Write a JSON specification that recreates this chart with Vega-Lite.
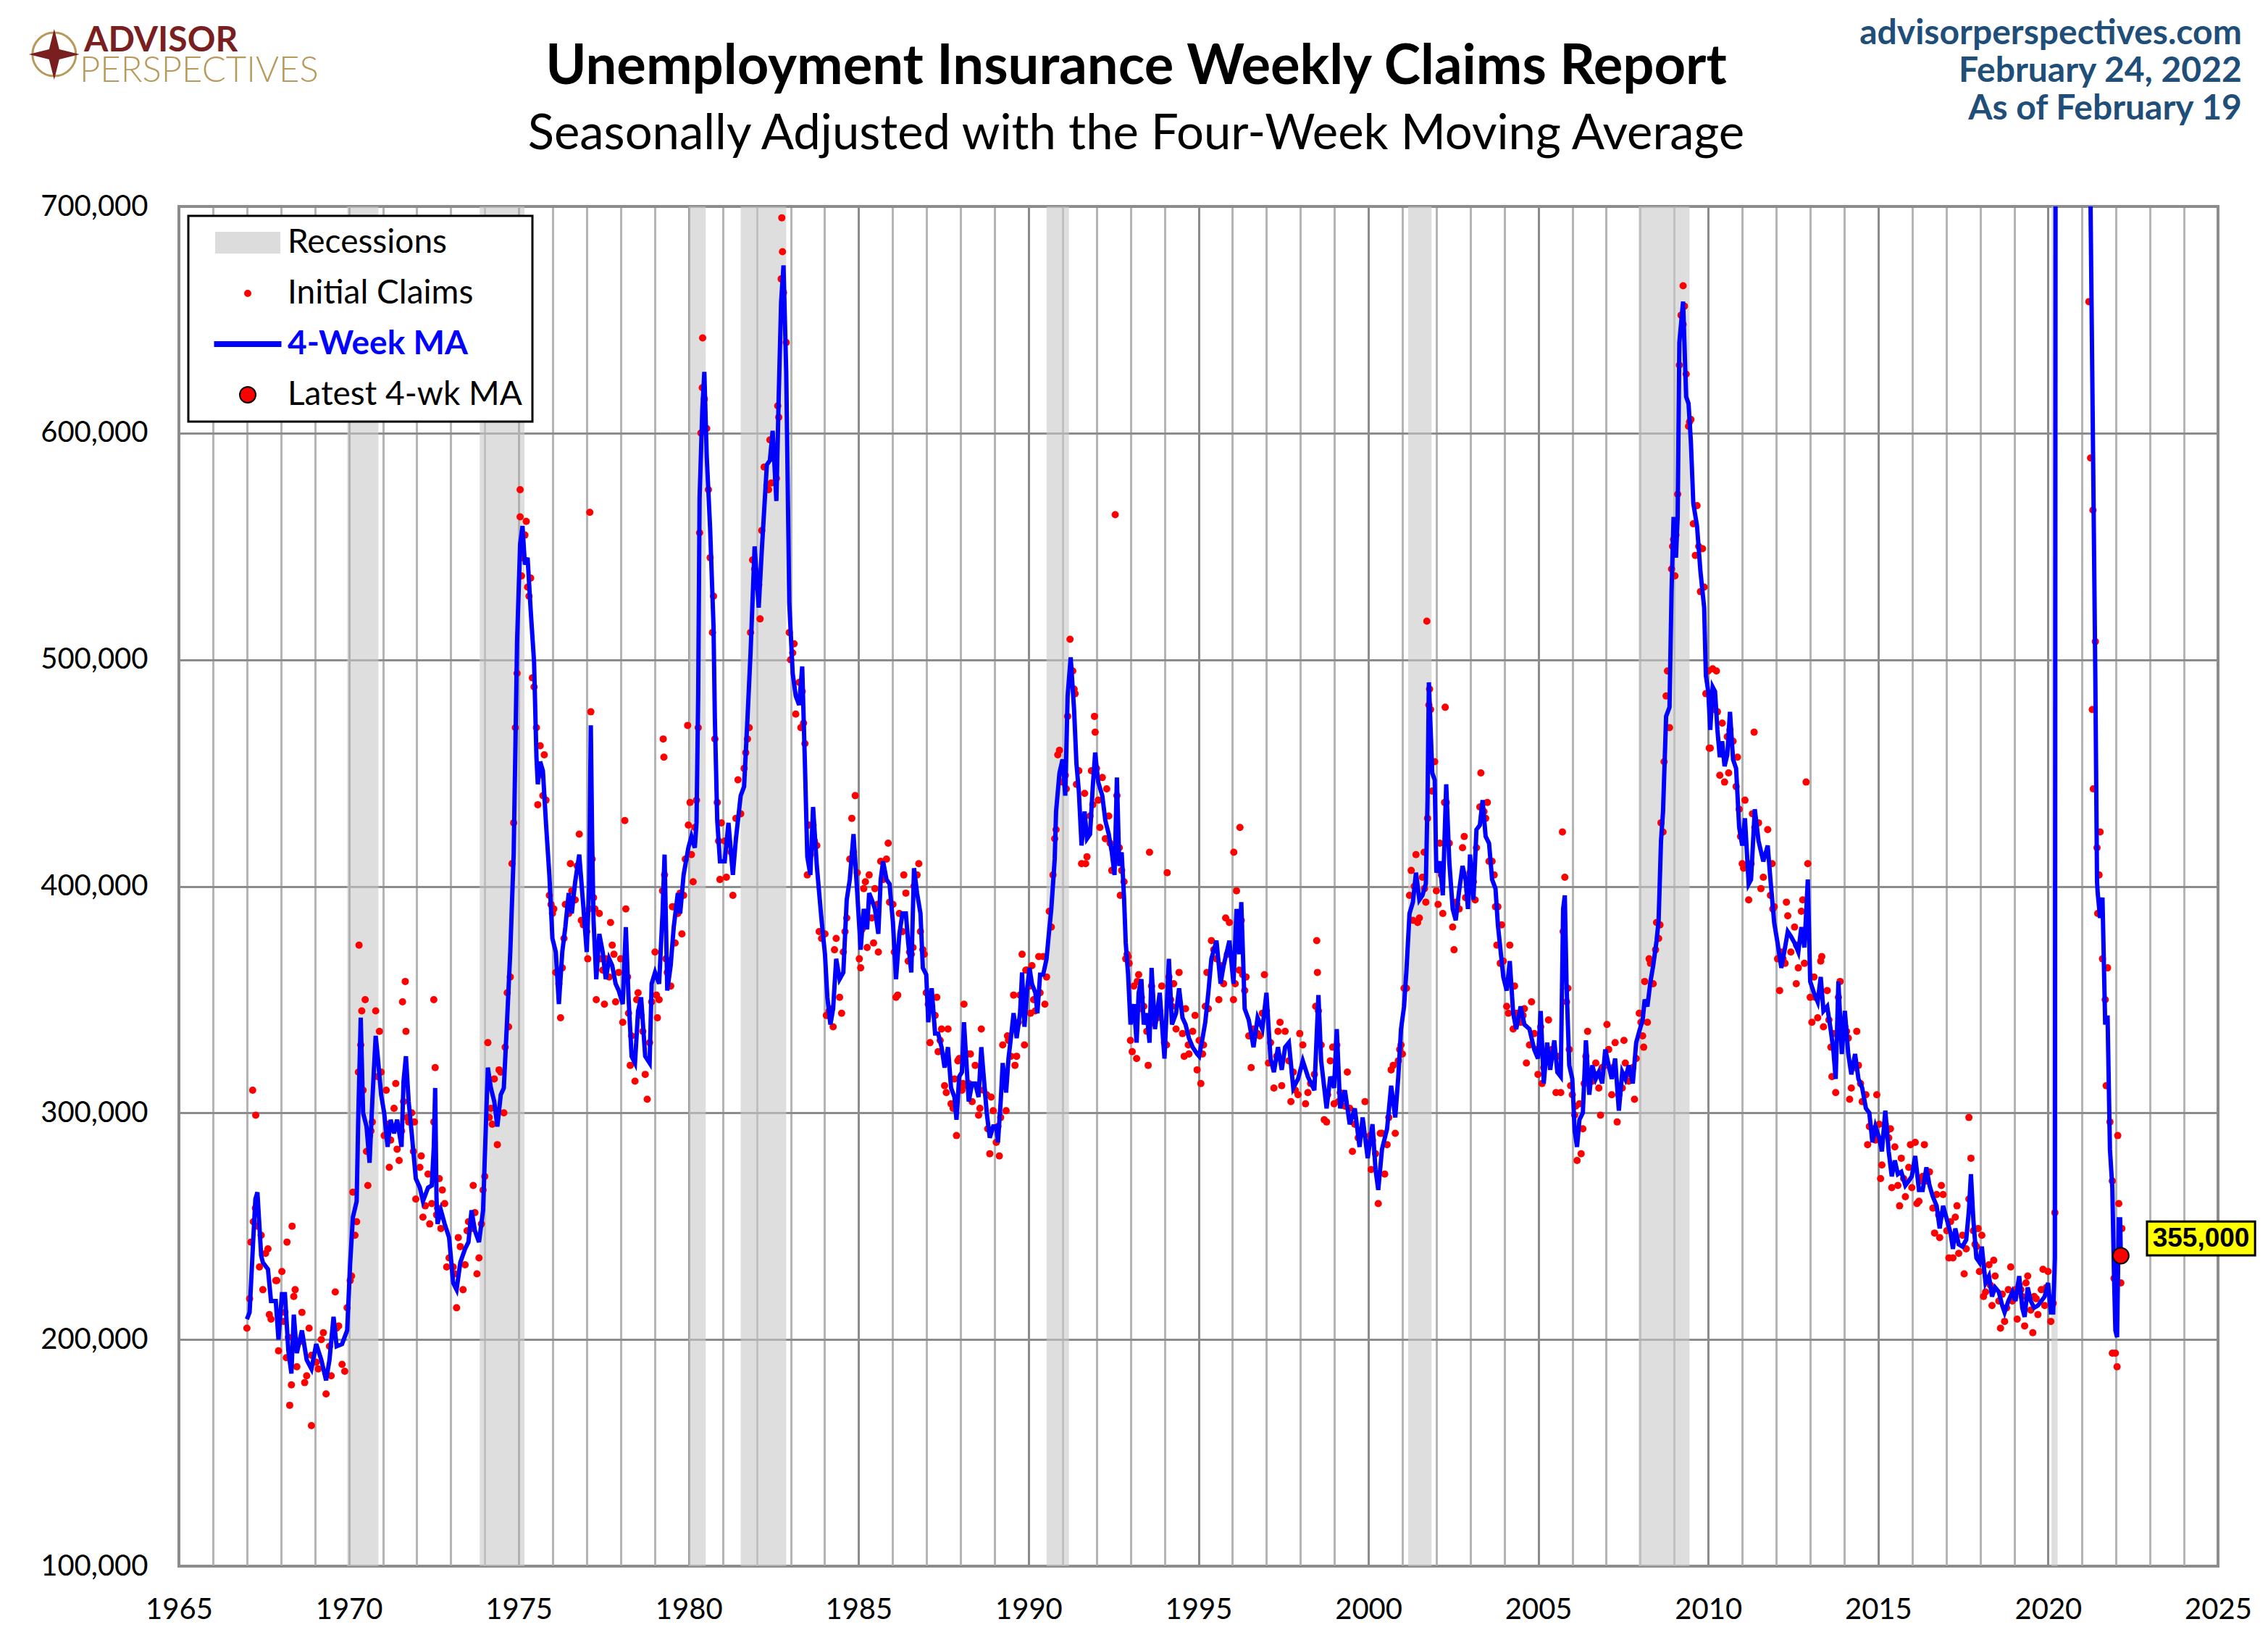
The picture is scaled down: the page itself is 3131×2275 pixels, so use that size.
{
"$schema": "https://vega.github.io/schema/vega-lite/v6.json",
"width": 2815,
"height": 1877,
"autosize": {"type": "none"},
"padding": {"left": 247, "top": 285, "right": 69, "bottom": 113},
"background": "#ffffff",
"config": {
  "font": "Lato",
  "view": {"stroke": "#8c8c8c", "strokeWidth": 4},
  "axis": {"labelFont": "Lato", "labelFontSize": 40, "labelColor": "#000000", "ticks": false, "domain": false, "grid": true},
  "legend": {"strokeWidth": 3}
},
"title": {
  "text": "Unemployment Insurance Weekly Claims Report",
  "subtitle": "Seasonally Adjusted with the Four-Week Moving Average",
  "font": "Lato", "fontSize": 76, "fontWeight": "bold", "color": "#000000",
  "subtitleFont": "Lato", "subtitleFontSize": 67, "subtitleColor": "#000000", "subtitlePadding": 21,
  "anchor": "middle", "frame": "group", "dx": -86, "offset": -197
},
"datasets": {
  "rec": [
    {"s": 1969.95, "e": 1970.87},
    {"s": 1973.85, "e": 1975.17},
    {"s": 1980.0, "e": 1980.5},
    {"s": 1981.53, "e": 1982.87},
    {"s": 1990.53, "e": 1991.19},
    {"s": 2001.17, "e": 2001.86},
    {"s": 2007.95, "e": 2009.45},
    {"s": 2020.1, "e": 2020.28}
  ],
  "wk": [
{"t":1967.00,"m":209000,"c":205000},{"t":1967.08,"m":212000,"c":218000},{"t":1967.19,"m":245000,"c":252000},{"t":1967.25,"m":262000,"c":258000},{"t":1967.31,"m":265000,"c":250000},{"t":1967.42,"m":237000,"c":246000},{"t":1967.47,"m":234000,"c":222000},{"t":1967.62,"m":231000,"c":240000},{"t":1967.71,"m":217000,"c":209000},{"t":1967.85,"m":217000,"c":226000},{"t":1967.93,"m":200000,"c":195000},
{"t":1968.03,"m":220000,"c":230000},{"t":1968.12,"m":220000,"c":212000},{"t":1968.22,"m":195000,"c":201000},{"t":1968.31,"m":185000,"c":180000},{"t":1968.38,"m":211000,"c":219000},{"t":1968.47,"m":194000,"c":188000},{"t":1968.62,"m":204000,"c":212000},{"t":1968.76,"m":191000,"c":184000},{"t":1968.90,"m":187000,"c":193000},
{"t":1969.04,"m":198000,"c":190000},{"t":1969.19,"m":191000,"c":200000},{"t":1969.33,"m":182000,"c":176000},{"t":1969.43,"m":191000,"c":197000},{"t":1969.55,"m":210000,"c":202000},{"t":1969.64,"m":197000,"c":205000},{"t":1969.80,"m":198000,"c":189000},{"t":1969.95,"m":204000,"c":214000},
{"t":1970.04,"m":234000,"c":226000},{"t":1970.12,"m":254000,"c":265000},{"t":1970.23,"m":261000,"c":252000},{"t":1970.28,"m":300000,"c":318000},{"t":1970.35,"m":342000,"c":330000},{"t":1970.42,"m":300000,"c":310000},{"t":1970.52,"m":294000,"c":283000},{"t":1970.61,"m":278000,"c":290000},{"t":1970.69,"m":305000,"c":296000},{"t":1970.79,"m":334000,"c":345000},{"t":1970.85,"m":325000,"c":316000},{"t":1970.95,"m":308000,"c":318000},
{"t":1971.04,"m":300000,"c":290000},{"t":1971.14,"m":285000,"c":295000},{"t":1971.23,"m":297000,"c":288000},{"t":1971.33,"m":291000,"c":302000},{"t":1971.42,"m":297000,"c":284000},{"t":1971.55,"m":285000,"c":292000},{"t":1971.61,"m":314000,"c":305000},{"t":1971.68,"m":325000,"c":336000},{"t":1971.76,"m":305000,"c":296000},{"t":1971.85,"m":291000,"c":300000},{"t":1971.97,"m":271000,"c":262000},
{"t":1972.09,"m":267000,"c":276000},{"t":1972.18,"m":261000,"c":254000},{"t":1972.33,"m":267000,"c":273000},{"t":1972.44,"m":268000,"c":260000},{"t":1972.50,"m":285000,"c":296000},{"t":1972.54,"m":311000,"c":320000},{"t":1972.58,"m":262000,"c":255000},{"t":1972.61,"m":251000,"c":258000},{"t":1972.71,"m":257000,"c":249000},{"t":1972.82,"m":251000,"c":260000},{"t":1972.95,"m":245000,"c":236000},
{"t":1973.07,"m":225000,"c":232000},{"t":1973.17,"m":222000,"c":214000},{"t":1973.28,"m":234000,"c":241000},{"t":1973.42,"m":240000,"c":233000},{"t":1973.52,"m":243000,"c":252000},{"t":1973.61,"m":257000,"c":249000},{"t":1973.71,"m":248000,"c":256000},{"t":1973.83,"m":243000,"c":236000},{"t":1973.95,"m":257000,"c":266000},
{"t":1974.00,"m":280000,"c":272000},{"t":1974.09,"m":320000,"c":331000},{"t":1974.18,"m":311000,"c":302000},{"t":1974.28,"m":305000,"c":315000},{"t":1974.37,"m":294000,"c":286000},{"t":1974.47,"m":308000,"c":318000},{"t":1974.56,"m":311000,"c":300000},{"t":1974.66,"m":342000,"c":353000},{"t":1974.75,"m":371000,"c":360000},{"t":1974.85,"m":414000,"c":428000},{"t":1974.95,"m":508000,"c":494000},
{"t":1975.04,"m":551000,"c":563000},{"t":1975.11,"m":559000,"c":545000},{"t":1975.18,"m":542000,"c":555000},{"t":1975.26,"m":545000,"c":532000},{"t":1975.35,"m":522000,"c":536000},{"t":1975.45,"m":499000,"c":488000},{"t":1975.52,"m":457000,"c":470000},{"t":1975.56,"m":445000,"c":436000},{"t":1975.63,"m":455000,"c":462000},{"t":1975.71,"m":451000,"c":440000},{"t":1975.80,"m":428000,"c":438000},{"t":1975.90,"m":405000,"c":396000},{"t":1975.99,"m":377000,"c":388000},
{"t":1976.09,"m":371000,"c":362000},{"t":1976.18,"m":348000,"c":357000},{"t":1976.28,"m":371000,"c":364000},{"t":1976.37,"m":382000,"c":392000},{"t":1976.47,"m":397000,"c":388000},{"t":1976.56,"m":388000,"c":398000},{"t":1976.66,"m":402000,"c":394000},{"t":1976.78,"m":414000,"c":423000},{"t":1976.90,"m":391000,"c":383000},
{"t":1977.00,"m":371000,"c":380000},{"t":1977.07,"m":400000,"c":390000},{"t":1977.12,"m":471000,"c":477000},{"t":1977.16,"m":420000,"c":412000},{"t":1977.20,"m":385000,"c":395000},{"t":1977.28,"m":359000,"c":350000},{"t":1977.37,"m":379000,"c":388000},{"t":1977.47,"m":371000,"c":363000},{"t":1977.56,"m":359000,"c":368000},{"t":1977.66,"m":368000,"c":360000},{"t":1977.75,"m":365000,"c":374000},{"t":1977.85,"m":357000,"c":349000},{"t":1977.94,"m":354000,"c":362000},
{"t":1978.06,"m":348000,"c":340000},{"t":1978.15,"m":382000,"c":390000},{"t":1978.23,"m":351000,"c":344000},{"t":1978.32,"m":325000,"c":334000},{"t":1978.42,"m":322000,"c":314000},{"t":1978.51,"m":345000,"c":353000},{"t":1978.60,"m":351000,"c":343000},{"t":1978.72,"m":325000,"c":317000},{"t":1978.85,"m":322000,"c":331000},{"t":1978.91,"m":357000,"c":349000},
{"t":1979.01,"m":362000,"c":371000},{"t":1979.13,"m":357000,"c":350000},{"t":1979.23,"m":388000,"c":398000},{"t":1979.29,"m":414000,"c":405000},{"t":1979.37,"m":354000,"c":362000},{"t":1979.47,"m":365000,"c":356000},{"t":1979.56,"m":382000,"c":391000},{"t":1979.68,"m":397000,"c":388000},{"t":1979.75,"m":388000,"c":397000},{"t":1979.85,"m":405000,"c":396000},{"t":1979.99,"m":417000,"c":427000},
{"t":1980.08,"m":422000,"c":414000},{"t":1980.18,"m":417000,"c":426000},{"t":1980.23,"m":428000,"c":438000},{"t":1980.28,"m":485000,"c":470000},{"t":1980.32,"m":571000,"c":556000},{"t":1980.40,"m":610000,"c":620000},{"t":1980.46,"m":627000,"c":615000},{"t":1980.53,"m":590000,"c":602000},{"t":1980.63,"m":558000,"c":545000},{"t":1980.73,"m":515000,"c":528000},{"t":1980.77,"m":474000,"c":465000},{"t":1980.84,"m":429000,"c":437000},{"t":1980.92,"m":411000,"c":403000},
{"t":1981.06,"m":411000,"c":420000},{"t":1981.17,"m":428000,"c":419000},{"t":1981.30,"m":405000,"c":396000},{"t":1981.39,"m":421000,"c":430000},{"t":1981.53,"m":440000,"c":432000},{"t":1981.63,"m":444000,"c":452000},{"t":1981.73,"m":474000,"c":465000},{"t":1981.82,"m":503000,"c":512000},{"t":1981.94,"m":550000,"c":540000},
{"t":1982.06,"m":523000,"c":533000},{"t":1982.15,"m":548000,"c":557000},{"t":1982.30,"m":586000,"c":577000},{"t":1982.39,"m":588000,"c":597000},{"t":1982.47,"m":601000,"c":590000},{"t":1982.58,"m":570000,"c":580000},{"t":1982.65,"m":617000,"c":607000},{"t":1982.72,"m":658000,"c":668000},{"t":1982.79,"m":674000,"c":662000},{"t":1982.87,"m":627000,"c":640000},{"t":1982.96,"m":525000,"c":512000},
{"t":1983.06,"m":494000,"c":503000},{"t":1983.15,"m":484000,"c":476000},{"t":1983.25,"m":480000,"c":490000},{"t":1983.34,"m":497000,"c":486000},{"t":1983.42,"m":454000,"c":463000},{"t":1983.49,"m":413000,"c":405000},{"t":1983.58,"m":405000,"c":414000},{"t":1983.66,"m":435000,"c":427000},{"t":1983.77,"m":409000,"c":418000},{"t":1983.91,"m":385000,"c":377000},
{"t":1984.01,"m":370000,"c":379000},{"t":1984.08,"m":351000,"c":343000},{"t":1984.17,"m":339000,"c":346000},{"t":1984.25,"m":346000,"c":338000},{"t":1984.34,"m":368000,"c":377000},{"t":1984.44,"m":359000,"c":351000},{"t":1984.55,"m":362000,"c":371000},{"t":1984.65,"m":394000,"c":386000},{"t":1984.74,"m":403000,"c":412000},{"t":1984.85,"m":423000,"c":415000},{"t":1984.96,"m":397000,"c":406000},
{"t":1985.06,"m":372000,"c":364000},{"t":1985.15,"m":390000,"c":399000},{"t":1985.25,"m":381000,"c":373000},{"t":1985.31,"m":397000,"c":405000},{"t":1985.39,"m":394000,"c":386000},{"t":1985.48,"m":390000,"c":399000},{"t":1985.58,"m":379000,"c":371000},{"t":1985.65,"m":403000,"c":411000},{"t":1985.72,"m":411000,"c":403000},{"t":1985.82,"m":403000,"c":412000},{"t":1985.91,"m":401000,"c":393000},
{"t":1986.01,"m":384000,"c":392000},{"t":1986.10,"m":359000,"c":351000},{"t":1986.20,"m":379000,"c":388000},{"t":1986.29,"m":388000,"c":380000},{"t":1986.39,"m":388000,"c":397000},{"t":1986.46,"m":375000,"c":367000},{"t":1986.55,"m":362000,"c":370000},{"t":1986.63,"m":408000,"c":400000},{"t":1986.72,"m":397000,"c":405000},{"t":1986.82,"m":388000,"c":380000},{"t":1986.89,"m":364000,"c":372000},{"t":1986.99,"m":361000,"c":353000},
{"t":1987.05,"m":340000,"c":348000},{"t":1987.15,"m":355000,"c":347000},{"t":1987.25,"m":335000,"c":343000},{"t":1987.34,"m":335000,"c":327000},{"t":1987.44,"m":329000,"c":337000},{"t":1987.53,"m":320000,"c":312000},{"t":1987.63,"m":329000,"c":337000},{"t":1987.72,"m":311000,"c":304000},{"t":1987.82,"m":307000,"c":315000},{"t":1987.88,"m":297000,"c":290000},{"t":1987.96,"m":316000,"c":324000},
{"t":1988.04,"m":318000,"c":310000},{"t":1988.10,"m":340000,"c":348000},{"t":1988.18,"m":320000,"c":312000},{"t":1988.24,"m":305000,"c":313000},{"t":1988.34,"m":313000,"c":305000},{"t":1988.43,"m":313000,"c":321000},{"t":1988.53,"m":307000,"c":299000},{"t":1988.61,"m":329000,"c":337000},{"t":1988.67,"m":318000,"c":310000},{"t":1988.77,"m":300000,"c":308000},{"t":1988.86,"m":289000,"c":282000},{"t":1988.96,"m":294000,"c":301000},
{"t":1989.05,"m":294000,"c":287000},{"t":1989.10,"m":287000,"c":294000},{"t":1989.18,"m":305000,"c":298000},{"t":1989.24,"m":322000,"c":330000},{"t":1989.34,"m":309000,"c":301000},{"t":1989.41,"m":324000,"c":332000},{"t":1989.48,"m":333000,"c":325000},{"t":1989.56,"m":344000,"c":352000},{"t":1989.65,"m":333000,"c":325000},{"t":1989.75,"m":344000,"c":352000},{"t":1989.81,"m":362000,"c":370000},{"t":1989.88,"m":338000,"c":330000},{"t":1989.96,"m":355000,"c":363000},
{"t":1990.03,"m":364000,"c":356000},{"t":1990.10,"m":357000,"c":365000},{"t":1990.20,"m":353000,"c":345000},{"t":1990.26,"m":344000,"c":352000},{"t":1990.34,"m":361000,"c":353000},{"t":1990.43,"m":361000,"c":369000},{"t":1990.53,"m":368000,"c":360000},{"t":1990.61,"m":381000,"c":389000},{"t":1990.67,"m":390000,"c":382000},{"t":1990.77,"m":412000,"c":421000},{"t":1990.81,"m":433000,"c":425000},{"t":1990.91,"m":450000,"c":460000},
{"t":1991.00,"m":456000,"c":446000},{"t":1991.08,"m":440000,"c":449000},{"t":1991.15,"m":484000,"c":475000},{"t":1991.24,"m":501000,"c":490000},{"t":1991.34,"m":478000,"c":487000},{"t":1991.41,"m":454000,"c":445000},{"t":1991.48,"m":442000,"c":451000},{"t":1991.56,"m":418000,"c":410000},{"t":1991.65,"m":433000,"c":441000},{"t":1991.72,"m":421000,"c":413000},{"t":1991.81,"m":423000,"c":431000},{"t":1991.89,"m":444000,"c":436000},{"t":1991.96,"m":459000,"c":468000},
{"t":1992.05,"m":446000,"c":438000},{"t":1992.17,"m":440000,"c":448000},{"t":1992.26,"m":429000,"c":421000},{"t":1992.36,"m":423000,"c":431000},{"t":1992.45,"m":415000,"c":407000},{"t":1992.53,"m":405000,"c":413000},{"t":1992.60,"m":448000,"c":440000},{"t":1992.67,"m":409000,"c":417000},{"t":1992.74,"m":415000,"c":407000},{"t":1992.81,"m":395000,"c":402000},{"t":1992.86,"m":375000,"c":368000},{"t":1992.93,"m":361000,"c":369000},
{"t":1993.00,"m":339000,"c":332000},{"t":1993.10,"m":348000,"c":356000},{"t":1993.18,"m":331000,"c":324000},{"t":1993.24,"m":353000,"c":361000},{"t":1993.32,"m":359000,"c":351000},{"t":1993.39,"m":339000,"c":347000},{"t":1993.48,"m":344000,"c":336000},{"t":1993.56,"m":331000,"c":339000},{"t":1993.62,"m":364000,"c":356000},{"t":1993.72,"m":337000,"c":345000},{"t":1993.86,"m":353000,"c":345000},
{"t":1994.00,"m":324000,"c":331000},{"t":1994.13,"m":368000,"c":360000},{"t":1994.22,"m":339000,"c":347000},{"t":1994.34,"m":344000,"c":337000},{"t":1994.43,"m":355000,"c":362000},{"t":1994.53,"m":342000,"c":335000},{"t":1994.62,"m":339000,"c":346000},{"t":1994.72,"m":333000,"c":326000},{"t":1994.83,"m":329000,"c":336000},{"t":1994.96,"m":326000,"c":319000},
{"t":1995.02,"m":325000,"c":332000},{"t":1995.12,"m":333000,"c":326000},{"t":1995.20,"m":340000,"c":347000},{"t":1995.29,"m":353000,"c":346000},{"t":1995.38,"m":368000,"c":376000},{"t":1995.53,"m":376000,"c":368000},{"t":1995.65,"m":357000,"c":365000},{"t":1995.74,"m":365000,"c":357000},{"t":1995.91,"m":376000,"c":384000},
{"t":1996.03,"m":357000,"c":350000},{"t":1996.12,"m":390000,"c":398000},{"t":1996.20,"m":370000,"c":363000},{"t":1996.26,"m":393000,"c":385000},{"t":1996.36,"m":346000,"c":354000},{"t":1996.48,"m":341000,"c":334000},{"t":1996.62,"m":329000,"c":337000},{"t":1996.74,"m":342000,"c":335000},{"t":1996.88,"m":337000,"c":344000},
{"t":1997.00,"m":353000,"c":345000},{"t":1997.12,"m":324000,"c":331000},{"t":1997.22,"m":318000,"c":311000},{"t":1997.34,"m":329000,"c":336000},{"t":1997.45,"m":319000,"c":312000},{"t":1997.55,"m":329000,"c":336000},{"t":1997.66,"m":331000,"c":323000},{"t":1997.79,"m":311000,"c":318000},{"t":1997.93,"m":315000,"c":308000},
{"t":1998.07,"m":323000,"c":330000},{"t":1998.22,"m":316000,"c":309000},{"t":1998.41,"m":310000,"c":317000},{"t":1998.53,"m":352000,"c":345000},{"t":1998.61,"m":323000,"c":330000},{"t":1998.77,"m":302000,"c":296000},{"t":1998.88,"m":316000,"c":323000},{"t":1998.99,"m":311000,"c":304000},
{"t":1999.07,"m":337000,"c":330000},{"t":1999.17,"m":302000,"c":309000},{"t":1999.31,"m":310000,"c":303000},{"t":1999.45,"m":295000,"c":302000},{"t":1999.60,"m":302000,"c":295000},{"t":1999.74,"m":285000,"c":291000},{"t":1999.83,"m":298000,"c":291000},{"t":1999.98,"m":280000,"c":287000},
{"t":2000.12,"m":295000,"c":288000},{"t":2000.21,"m":275000,"c":282000},{"t":2000.29,"m":266000,"c":260000},{"t":2000.40,"m":284000,"c":291000},{"t":2000.55,"m":293000,"c":286000},{"t":2000.67,"m":312000,"c":319000},{"t":2000.79,"m":298000,"c":291000},{"t":2000.88,"m":316000,"c":323000},{"t":2000.96,"m":337000,"c":330000},
{"t":2001.05,"m":347000,"c":355000},{"t":2001.12,"m":363000,"c":355000},{"t":2001.21,"m":388000,"c":396000},{"t":2001.31,"m":393000,"c":385000},{"t":2001.40,"m":406000,"c":414000},{"t":2001.50,"m":394000,"c":386000},{"t":2001.59,"m":396000,"c":404000},{"t":2001.69,"m":401000,"c":393000},{"t":2001.74,"m":438000,"c":430000},{"t":2001.78,"m":490000,"c":480000},{"t":2001.83,"m":470000,"c":478000},{"t":2001.88,"m":450000,"c":442000},{"t":2001.95,"m":447000,"c":455000},
{"t":2002.00,"m":406000,"c":398000},{"t":2002.10,"m":411000,"c":419000},{"t":2002.19,"m":396000,"c":388000},{"t":2002.29,"m":445000,"c":437000},{"t":2002.38,"m":411000,"c":419000},{"t":2002.48,"m":390000,"c":382000},{"t":2002.57,"m":385000,"c":393000},{"t":2002.67,"m":398000,"c":390000},{"t":2002.77,"m":409000,"c":417000},{"t":2002.86,"m":403000,"c":395000},{"t":2002.93,"m":390000,"c":398000},{"t":2002.99,"m":414000,"c":406000},
{"t":2003.09,"m":394000,"c":402000},{"t":2003.18,"m":425000,"c":417000},{"t":2003.28,"m":427000,"c":435000},{"t":2003.36,"m":438000,"c":430000},{"t":2003.45,"m":422000,"c":430000},{"t":2003.55,"m":419000,"c":411000},{"t":2003.64,"m":403000,"c":411000},{"t":2003.74,"m":399000,"c":391000},{"t":2003.81,"m":383000,"c":391000},{"t":2003.88,"m":373000,"c":366000},{"t":2003.97,"m":360000,"c":367000},
{"t":2004.07,"m":354000,"c":347000},{"t":2004.16,"m":367000,"c":374000},{"t":2004.26,"m":344000,"c":337000},{"t":2004.35,"m":337000,"c":344000},{"t":2004.48,"m":347000,"c":340000},{"t":2004.59,"m":339000,"c":346000},{"t":2004.74,"m":337000,"c":330000},{"t":2004.88,"m":328000,"c":335000},{"t":2004.99,"m":324000,"c":317000},
{"t":2005.07,"m":345000,"c":338000},{"t":2005.16,"m":313000,"c":320000},{"t":2005.26,"m":331000,"c":324000},{"t":2005.35,"m":319000,"c":326000},{"t":2005.47,"m":332000,"c":325000},{"t":2005.56,"m":318000,"c":325000},{"t":2005.66,"m":316000,"c":309000},{"t":2005.73,"m":390000,"c":380000},{"t":2005.78,"m":396000,"c":404000},{"t":2005.83,"m":357000,"c":349000},{"t":2005.91,"m":321000,"c":328000},
{"t":2006.00,"m":315000,"c":308000},{"t":2006.07,"m":292000,"c":299000},{"t":2006.14,"m":285000,"c":279000},{"t":2006.21,"m":297000,"c":304000},{"t":2006.31,"m":300000,"c":293000},{"t":2006.40,"m":332000,"c":325000},{"t":2006.50,"m":308000,"c":315000},{"t":2006.59,"m":321000,"c":314000},{"t":2006.69,"m":315000,"c":322000},{"t":2006.78,"m":318000,"c":311000},{"t":2006.88,"m":313000,"c":320000},{"t":2006.97,"m":328000,"c":321000},
{"t":2007.07,"m":321000,"c":328000},{"t":2007.16,"m":315000,"c":308000},{"t":2007.26,"m":324000,"c":331000},{"t":2007.37,"m":301000,"c":308000},{"t":2007.47,"m":318000,"c":311000},{"t":2007.56,"m":315000,"c":322000},{"t":2007.66,"m":321000,"c":314000},{"t":2007.78,"m":313000,"c":320000},{"t":2007.88,"m":331000,"c":324000},{"t":2007.97,"m":336000,"c":344000},
{"t":2008.07,"m":341000,"c":334000},{"t":2008.13,"m":350000,"c":358000},{"t":2008.21,"m":347000,"c":340000},{"t":2008.30,"m":358000,"c":366000},{"t":2008.38,"m":365000,"c":357000},{"t":2008.48,"m":376000,"c":384000},{"t":2008.54,"m":385000,"c":377000},{"t":2008.61,"m":420000,"c":428000},{"t":2008.67,"m":433000,"c":424000},{"t":2008.76,"m":475000,"c":484000},{"t":2008.86,"m":479000,"c":470000},{"t":2008.92,"m":530000,"c":540000},{"t":2008.98,"m":563000,"c":553000},
{"t":2009.05,"m":545000,"c":555000},{"t":2009.10,"m":563000,"c":573000},{"t":2009.15,"m":640000,"c":630000},{"t":2009.26,"m":658000,"c":648000},{"t":2009.35,"m":616000,"c":626000},{"t":2009.42,"m":613000,"c":603000},{"t":2009.49,"m":596000,"c":606000},{"t":2009.56,"m":569000,"c":560000},{"t":2009.67,"m":559000,"c":568000},{"t":2009.77,"m":539000,"c":530000},{"t":2009.88,"m":523000,"c":532000},{"t":2009.93,"m":493000,"c":485000},
{"t":2010.00,"m":486000,"c":495000},{"t":2010.06,"m":469000,"c":461000},{"t":2010.13,"m":488000,"c":496000},{"t":2010.20,"m":486000,"c":478000},{"t":2010.27,"m":469000,"c":477000},{"t":2010.34,"m":457000,"c":449000},{"t":2010.41,"m":464000,"c":472000},{"t":2010.48,"m":453000,"c":446000},{"t":2010.56,"m":458000,"c":466000},{"t":2010.64,"m":477000,"c":469000},{"t":2010.73,"m":456000,"c":464000},{"t":2010.82,"m":452000,"c":444000},{"t":2010.91,"m":426000,"c":434000},
{"t":2011.00,"m":418000,"c":410000},{"t":2011.08,"m":430000,"c":438000},{"t":2011.19,"m":401000,"c":394000},{"t":2011.26,"m":403000,"c":410000},{"t":2011.37,"m":434000,"c":426000},{"t":2011.48,"m":420000,"c":428000},{"t":2011.62,"m":411000,"c":404000},{"t":2011.75,"m":418000,"c":425000},{"t":2011.83,"m":403000,"c":396000},{"t":2011.94,"m":384000,"c":391000},
{"t":2012.04,"m":375000,"c":368000},{"t":2012.15,"m":364000,"c":371000},{"t":2012.26,"m":373000,"c":366000},{"t":2012.34,"m":380000,"c":387000},{"t":2012.43,"m":378000,"c":371000},{"t":2012.54,"m":375000,"c":382000},{"t":2012.65,"m":371000,"c":364000},{"t":2012.74,"m":382000,"c":389000},{"t":2012.83,"m":373000,"c":366000},{"t":2012.93,"m":403000,"c":410000},
{"t":2013.00,"m":358000,"c":351000},{"t":2013.11,"m":353000,"c":360000},{"t":2013.22,"m":349000,"c":342000},{"t":2013.31,"m":360000,"c":367000},{"t":2013.39,"m":345000,"c":338000},{"t":2013.50,"m":347000,"c":354000},{"t":2013.61,"m":336000,"c":329000},{"t":2013.68,"m":328000,"c":335000},{"t":2013.75,"m":315000,"c":309000},{"t":2013.83,"m":358000,"c":351000},{"t":2013.93,"m":326000,"c":333000},
{"t":2014.02,"m":345000,"c":338000},{"t":2014.12,"m":326000,"c":333000},{"t":2014.21,"m":317000,"c":311000},{"t":2014.32,"m":326000,"c":320000},{"t":2014.42,"m":315000,"c":321000},{"t":2014.53,"m":311000,"c":305000},{"t":2014.64,"m":302000,"c":308000},{"t":2014.74,"m":300000,"c":294000},{"t":2014.83,"m":287000,"c":293000},{"t":2014.92,"m":294000,"c":288000},
{"t":2015.03,"m":289000,"c":295000},{"t":2015.11,"m":283000,"c":277000},{"t":2015.21,"m":301000,"c":295000},{"t":2015.31,"m":283000,"c":289000},{"t":2015.40,"m":272000,"c":267000},{"t":2015.49,"m":279000,"c":285000},{"t":2015.58,"m":273000,"c":268000},{"t":2015.68,"m":274000,"c":280000},{"t":2015.80,"m":268000,"c":263000},{"t":2015.90,"m":270000,"c":276000},{"t":2015.99,"m":272000,"c":267000},
{"t":2016.09,"m":281000,"c":287000},{"t":2016.20,"m":266000,"c":261000},{"t":2016.31,"m":266000,"c":272000},{"t":2016.42,"m":276000,"c":270000},{"t":2016.51,"m":268000,"c":274000},{"t":2016.61,"m":263000,"c":258000},{"t":2016.72,"m":259000,"c":264000},{"t":2016.81,"m":249000,"c":245000},{"t":2016.91,"m":259000,"c":264000},
{"t":2017.02,"m":253000,"c":248000},{"t":2017.13,"m":247000,"c":252000},{"t":2017.20,"m":240000,"c":236000},{"t":2017.27,"m":249000,"c":254000},{"t":2017.37,"m":242000,"c":238000},{"t":2017.48,"m":241000,"c":246000},{"t":2017.59,"m":244000,"c":240000},{"t":2017.67,"m":257000,"c":262000},{"t":2017.73,"m":273000,"c":280000},{"t":2017.80,"m":253000,"c":248000},{"t":2017.89,"m":236000,"c":241000},{"t":2017.98,"m":234000,"c":230000},
{"t":2018.05,"m":241000,"c":246000},{"t":2018.16,"m":225000,"c":221000},{"t":2018.26,"m":228000,"c":233000},{"t":2018.35,"m":219000,"c":215000},{"t":2018.44,"m":223000,"c":228000},{"t":2018.55,"m":221000,"c":217000},{"t":2018.65,"m":215000,"c":220000},{"t":2018.72,"m":212000,"c":208000},{"t":2018.83,"m":217000,"c":222000},{"t":2018.95,"m":221000,"c":217000},
{"t":2019.04,"m":217000,"c":222000},{"t":2019.15,"m":228000,"c":224000},{"t":2019.24,"m":214000,"c":219000},{"t":2019.31,"m":210000,"c":206000},{"t":2019.40,"m":223000,"c":228000},{"t":2019.49,"m":217000,"c":213000},{"t":2019.59,"m":214000,"c":219000},{"t":2019.70,"m":215000,"c":211000},{"t":2019.80,"m":217000,"c":222000},{"t":2019.90,"m":219000,"c":215000},
{"t":2020.00,"m":225000,"c":230000},{"t":2020.08,"m":212000,"c":208000},{"t":2020.15,"m":212000,"c":216000},{"t":2020.20,"m":236000,"c":256000},{"t":2020.23,"m":1000000},{"t":2020.25,"m":2000000},{"t":2020.28,"m":4260000},{"t":2020.35,"m":3500000},{"t":2020.45,"m":2200000},{"t":2020.55,"m":1450000},{"t":2020.70,"m":1000000},{"t":2020.85,"m":760000},
{"t":2021.00,"m":820000},{"t":2021.10,"m":780000},{"t":2021.20,"m":730000,"c":658000},{"t":2021.25,"m":700000,"c":589000},{"t":2021.32,"m":596000,"c":566000},{"t":2021.39,"m":492000,"c":508000},{"t":2021.44,"m":402000,"c":417000},{"t":2021.46,"m":397000,"c":388000},{"t":2021.53,"m":386000,"c":424000},{"t":2021.60,"m":395000,"c":368000},{"t":2021.68,"m":339000,"c":350000},{"t":2021.75,"m":343000,"c":364000},{"t":2021.82,"m":284000,"c":296000},{"t":2021.89,"m":267000,"c":270000},{"t":2021.94,"m":228000,"c":227000},{"t":2021.98,"m":204000,"c":194000},
{"t":2022.03,"m":201000,"c":188000},{"t":2022.08,"m":253000,"c":260000},{"t":2022.12,"m":253000,"c":249000},{"t":2022.14,"m":237000,"c":225000},
{"t":1967.17,"c":310000},{"t":1967.26,"c":299000},{"t":1968.26,"c":171000},{"t":1968.33,"c":250000},{"t":1968.18,"c":243000},{"t":1968.90,"c":162000},{"t":1970.30,"c":374000},{"t":1970.48,"c":350000},{"t":1971.58,"c":349000},{"t":1971.66,"c":358000},{"t":1972.50,"c":350000},{"t":1975.04,"c":575000},{"t":1977.09,"c":565000},{"t":1978.12,"c":429000},{"t":1979.25,"c":465000},{"t":1979.27,"c":457000},{"t":1979.97,"c":471000},{"t":1980.41,"c":642000},{"t":1982.74,"c":695000},{"t":1982.76,"c":680000},{"t":1984.90,"c":440000},{"t":1991.22,"c":509000},{"t":1991.94,"c":475000},{"t":1992.55,"c":564000},{"t":1993.56,"c":415000},{"t":1994.08,"c":406000},{"t":1996.04,"c":415000},{"t":1996.22,"c":426000},{"t":1998.48,"c":376000},{"t":1998.50,"c":362000},{"t":2001.72,"c":517000},{"t":2002.26,"c":479000},{"t":2003.31,"c":450000},{"t":2005.71,"c":424000},{"t":2009.26,"c":665000},{"t":2011.35,"c":468000},{"t":2012.88,"c":446000},{"t":2017.67,"c":298000},{"t":2021.30,"c":478000},{"t":2021.33,"c":443000},{"t":2021.50,"c":405000},{"t":2021.71,"c":312000},{"t":2022.05,"c":290000},{"t":2021.89,"c":194000},{"t":2022.17,"c":249000},
{"t":1967.55,"c":238000},{"t":1968.08,"c":208000},{"t":1968.55,"c":199000},{"t":1969.10,"c":187000},{"t":1969.70,"c":206000},{"t":1970.18,"c":246000},{"t":1970.65,"c":292000},{"t":1971.10,"c":310000},{"t":1971.48,"c":279000},{"t":1971.90,"c":283000},{"t":1972.25,"c":259000},{"t":1972.75,"c":266000},{"t":1973.12,"c":229000},{"t":1973.48,"c":248000},{"t":1973.90,"c":251000},{"t":1974.22,"c":295000},{"t":1974.60,"c":329000},{"t":1974.90,"c":470000},{"t":1975.30,"c":528000},{"t":1975.60,"c":449000},{"t":1975.95,"c":392000},{"t":1976.33,"c":377000},{"t":1976.72,"c":409000},{"t":1977.40,"c":368000},{"t":1977.80,"c":370000},{"t":1978.20,"c":360000},{"t":1978.65,"c":336000},{"t":1979.05,"c":352000},{"t":1979.60,"c":375000},{"t":1979.90,"c":412000},{"t":1980.36,"c":600000},{"t":1980.58,"c":575000},{"t":1980.88,"c":420000},{"t":1981.25,"c":415000},{"t":1981.68,"c":459000},{"t":1982.00,"c":532000},{"t":1982.35,"c":575000},{"t":1982.54,"c":588000},{"t":1983.00,"c":500000},{"t":1983.38,"c":472000},{"t":1983.70,"c":420000},{"t":1984.13,"c":345000},{"t":1984.60,"c":380000},{"t":1985.10,"c":381000},{"t":1985.55,"c":392000},{"t":1986.05,"c":371000},{"t":1986.50,"c":371000},{"t":1986.93,"c":370000},{"t":1987.40,"c":332000},{"t":1987.78,"c":302000},{"t":1988.20,"c":326000},{"t":1988.80,"c":293000},{"t":1989.30,"c":316000},{"t":1989.70,"c":340000},{"t":1990.15,"c":350000},{"t":1990.72,"c":405000},{"t":1991.05,"c":452000},{"t":1991.30,"c":495000},{"t":1991.60,"c":424000},{"t":1992.00,"c":452000},{"t":1992.40,"c":419000},{"t":1992.90,"c":370000},{"t":1993.30,"c":346000},{"t":1993.80,"c":342000},{"t":1994.18,"c":350000},{"t":1994.70,"c":330000},{"t":1995.15,"c":330000},{"t":1995.45,"c":372000},{"t":1995.85,"c":370000},{"t":1996.30,"c":361000},{"t":1996.80,"c":334000},{"t":1997.30,"c":325000},{"t":1997.85,"c":310000},{"t":1998.30,"c":313000},{"t":1998.80,"c":308000},{"t":1999.20,"c":307000},{"t":1999.70,"c":289000},{"t":2000.05,"c":290000},{"t":2000.60,"c":298000},{"t":2000.92,"c":328000},{"t":2001.35,"c":400000},{"t":2001.65,"c":399000},{"t":2001.80,"c":487000},{"t":2002.15,"c":405000},{"t":2002.60,"c":392000},{"t":2003.05,"c":400000},{"t":2003.40,"c":433000},{"t":2003.70,"c":405000},{"t":2004.10,"c":358000},{"t":2004.55,"c":343000},{"t":2004.95,"c":328000},{"t":2005.40,"c":328000},{"t":2005.95,"c":312000},{"t":2006.35,"c":313000},{"t":2006.75,"c":317000},{"t":2007.20,"c":320000},{"t":2007.60,"c":317000},{"t":2008.02,"c":340000},{"t":2008.45,"c":372000},{"t":2008.70,"c":455000},{"t":2008.95,"c":550000},{"t":2009.20,"c":652000},{"t":2009.45,"c":605000},{"t":2009.72,"c":550000},{"t":2010.10,"c":478000},{"t":2010.45,"c":458000},{"t":2010.95,"c":422000},{"t":2011.40,"c":428000},{"t":2011.90,"c":390000},{"t":2012.20,"c":368000},{"t":2012.60,"c":374000},{"t":2013.15,"c":351000},{"t":2013.55,"c":341000},{"t":2014.07,"c":336000},{"t":2014.48,"c":313000},{"t":2014.88,"c":290000},{"t":2015.25,"c":292000},{"t":2015.75,"c":271000},{"t":2016.25,"c":270000},{"t":2016.78,"c":255000},{"t":2017.24,"c":244000},{"t":2017.85,"c":242000},{"t":2018.30,"c":224000},{"t":2018.78,"c":214000},{"t":2019.20,"c":222000},{"t":2019.65,"c":218000},{"t":2019.95,"c":223000},
{"t":1967.12,"c":243000},{"t":1967.37,"c":232000},{"t":1967.66,"c":211000},{"t":1967.88,"c":226000},{"t":1968.16,"c":192000},{"t":1968.42,"c":222000},{"t":1968.70,"c":181000},{"t":1968.83,"c":205000},{"t":1969.25,"c":203000},{"t":1969.48,"c":184000},{"t":1969.60,"c":221000},{"t":1969.88,"c":186000},
{"t":1970.08,"c":228000},{"t":1970.38,"c":345000},{"t":1970.56,"c":268000},{"t":1970.90,"c":336000},{"t":1971.19,"c":276000},{"t":1971.38,"c":313000},{"t":1971.72,"c":298000},{"t":1971.93,"c":296000},{"t":1972.13,"c":281000},{"t":1972.38,"c":251000},{"t":1972.66,"c":271000},{"t":1972.88,"c":232000},
{"t":1973.22,"c":245000},{"t":1973.36,"c":222000},{"t":1973.66,"c":268000},{"t":1973.77,"c":229000},{"t":1974.13,"c":298000},{"t":1974.42,"c":319000},{"t":1974.70,"c":338000},{"t":1974.80,"c":410000},{"t":1975.08,"c":537000},{"t":1975.22,"c":561000},{"t":1975.40,"c":492000},{"t":1975.75,"c":458000},
{"t":1976.03,"c":390000},{"t":1976.23,"c":342000},{"t":1976.52,"c":410000},{"t":1976.84,"c":385000},{"t":1977.03,"c":368000},{"t":1977.24,"c":390000},{"t":1977.52,"c":348000},{"t":1977.70,"c":384000},{"t":1978.00,"c":368000},{"t":1978.28,"c":321000},{"t":1978.47,"c":350000},{"t":1978.78,"c":306000},
{"t":1979.08,"c":342000},{"t":1979.33,"c":368000},{"t":1979.52,"c":391000},{"t":1979.80,"c":379000},{"t":1980.04,"c":437000},{"t":1980.13,"c":402000},{"t":1980.70,"c":512000},{"t":1980.96,"c":428000},{"t":1981.11,"c":404000},{"t":1981.45,"c":447000},{"t":1981.78,"c":470000},{"t":1981.88,"c":544000},
{"t":1982.10,"c":518000},{"t":1982.22,"c":585000},{"t":1982.43,"c":578000},{"t":1982.62,"c":612000},{"t":1983.10,"c":507000},{"t":1983.30,"c":470000},{"t":1983.53,"c":427000},{"t":1983.84,"c":380000},{"t":1984.05,"c":343000},{"t":1984.29,"c":372000},{"t":1984.50,"c":344000},{"t":1984.80,"c":430000},
{"t":1985.02,"c":368000},{"t":1985.20,"c":402000},{"t":1985.44,"c":375000},{"t":1985.87,"c":419000},{"t":1986.15,"c":352000},{"t":1986.33,"c":405000},{"t":1986.60,"c":373000},{"t":1986.77,"c":410000},{"t":1987.10,"c":331000},{"t":1987.30,"c":351000},{"t":1987.58,"c":309000},{"t":1987.92,"c":323000},
{"t":1988.07,"c":313000},{"t":1988.29,"c":326000},{"t":1988.57,"c":302000},{"t":1988.90,"c":307000},{"t":1989.14,"c":281000},{"t":1989.38,"c":334000},{"t":1989.60,"c":321000},{"t":1989.92,"c":363000},{"t":1990.06,"c":344000},{"t":1990.30,"c":369000},{"t":1990.48,"c":348000},{"t":1990.86,"c":458000},
{"t":1991.11,"c":443000},{"t":1991.37,"c":485000},{"t":1991.68,"c":410000},{"t":1991.85,"c":451000},{"t":1992.10,"c":426000},{"t":1992.30,"c":443000},{"t":1992.70,"c":396000},{"t":1992.96,"c":366000},{"t":1993.05,"c":327000},{"t":1993.20,"c":358000},{"t":1993.52,"c":321000},{"t":1993.92,"c":356000},
{"t":1994.06,"c":330000},{"t":1994.27,"c":357000},{"t":1994.58,"c":325000},{"t":1994.90,"c":343000},{"t":1995.07,"c":313000},{"t":1995.25,"c":362000},{"t":1995.60,"c":350000},{"t":1995.80,"c":386000},{"t":1996.08,"c":357000},{"t":1996.40,"c":360000},{"t":1996.55,"c":320000},{"t":1996.94,"c":361000},
{"t":1997.06,"c":322000},{"t":1997.40,"c":340000},{"t":1997.72,"c":305000},{"t":1997.98,"c":335000},{"t":1998.15,"c":304000},{"t":1998.45,"c":347000},{"t":1998.70,"c":297000},{"t":1998.95,"c":329000},{"t":1999.12,"c":305000},{"t":1999.38,"c":318000},{"t":1999.53,"c":283000},{"t":1999.90,"c":305000},
{"t":2000.08,"c":275000},{"t":2000.35,"c":291000},{"t":2000.48,"c":273000},{"t":2000.73,"c":321000},{"t":2001.00,"c":326000},{"t":2001.26,"c":407000},{"t":2001.45,"c":384000},{"t":2001.64,"c":415000},{"t":2002.05,"c":392000},{"t":2002.24,"c":437000},{"t":2002.52,"c":372000},{"t":2002.82,"c":422000},
{"t":2003.14,"c":394000},{"t":2003.50,"c":437000},{"t":2003.78,"c":374000},{"t":2003.92,"c":383000},{"t":2004.12,"c":344000},{"t":2004.30,"c":356000},{"t":2004.65,"c":322000},{"t":2004.80,"c":349000},{"t":2005.11,"c":313000},{"t":2005.30,"c":341000},{"t":2005.52,"c":309000},{"t":2005.87,"c":355000},
{"t":2006.10,"c":303000},{"t":2006.26,"c":282000},{"t":2006.45,"c":336000},{"t":2006.83,"c":299000},{"t":2007.02,"c":339000},{"t":2007.32,"c":296000},{"t":2007.52,"c":332000},{"t":2007.83,"c":306000},{"t":2008.10,"c":329000},{"t":2008.26,"c":368000},{"t":2008.58,"c":383000},{"t":2008.80,"c":495000},
{"t":2009.02,"c":537000},{"t":2009.30,"c":656000},{"t":2009.62,"c":546000},{"t":2009.83,"c":549000},{"t":2010.03,"c":461000},{"t":2010.24,"c":495000},{"t":2010.60,"c":450000},{"t":2010.86,"c":457000},{"t":2011.04,"c":408000},{"t":2011.30,"c":432000},{"t":2011.55,"c":399000},{"t":2011.88,"c":410000},
{"t":2012.10,"c":354000},{"t":2012.30,"c":393000},{"t":2012.59,"c":357000},{"t":2012.78,"c":394000},{"t":2013.05,"c":340000},{"t":2013.34,"c":369000},{"t":2013.64,"c":316000},{"t":2013.88,"c":358000},{"t":2014.16,"c":306000},{"t":2014.37,"c":336000},{"t":2014.69,"c":286000},{"t":2014.96,"c":308000},
{"t":2015.07,"c":271000},{"t":2015.36,"c":293000},{"t":2015.63,"c":259000},{"t":2015.95,"c":286000},{"t":2016.14,"c":260000},{"t":2016.36,"c":286000},{"t":2016.66,"c":247000},{"t":2016.86,"c":268000},{"t":2017.08,"c":236000},{"t":2017.32,"c":259000},{"t":2017.53,"c":229000},{"t":2017.94,"c":249000},
{"t":2018.10,"c":219000},{"t":2018.40,"c":235000},{"t":2018.60,"c":205000},{"t":2018.90,"c":232000},{"t":2019.09,"c":209000},{"t":2019.35,"c":225000},{"t":2019.55,"c":203000},{"t":2019.85,"c":231000}
  ]
},
"layer": [
  {
    "data": {"name": "rec"},
    "mark": {"type": "rect", "color": "#c8c8c8", "opacity": 0.6},
    "encoding": {
      "x": {"field": "s", "type": "quantitative", "title": null,
        "scale": {"domain": [1965, 2025], "nice": false, "zero": false},
        "axis": {"title": null, "values": [1965,1966,1967,1968,1969,1970,1971,1972,1973,1974,1975,1976,1977,1978,1979,1980,1981,1982,1983,1984,1985,1986,1987,1988,1989,1990,1991,1992,1993,1994,1995,1996,1997,1998,1999,2000,2001,2002,2003,2004,2005,2006,2007,2008,2009,2010,2011,2012,2013,2014,2015,2016,2017,2018,2019,2020,2021,2022,2023,2024,2025],
          "format": "d", "labelExpr": "datum.value % 5 === 0 ? datum.label : ''",
          "gridColor": {"condition": {"test": "datum.value % 5 === 0", "value": "#8c8c8c"}, "value": "#b4b4b4"},
          "gridWidth": 3, "labelPadding": 40, "labelOverlap": false, "labelFlush": false}},
      "x2": {"field": "e"}
    }
  },
  {
    "data": {"name": "wk"},
    "transform": [{"filter": "isValid(datum.c)"}],
    "mark": {"type": "circle", "color": "#ff0000", "size": 100, "opacity": 1, "clip": true},
    "encoding": {
      "x": {"field": "t", "type": "quantitative", "title": null},
      "y": {"field": "c", "type": "quantitative", "title": null,
        "scale": {"domain": [100000, 700000], "nice": false, "zero": false},
        "axis": {"title": null, "values": [100000,200000,300000,400000,500000,600000,700000], "format": ",d", "gridColor": "#8c8c8c", "gridWidth": 3, "labelPadding": 43}}
    }
  },
  {
    "data": {"name": "wk"},
    "transform": [{"filter": "isValid(datum.m)"}],
    "mark": {"type": "line", "color": "#0000ff", "strokeWidth": 6, "clip": true},
    "encoding": {
      "x": {"field": "t", "type": "quantitative", "title": null},
      "y": {"field": "m", "type": "quantitative", "title": null}
    }
  },
  {
    "data": {"values": [{"t": 2022.14, "m": 237000, "series": "Latest 4-wk MA"}]},
    "mark": {"type": "point", "filled": true, "size": 1600, "strokeWidth": 2, "opacity": 1},
    "encoding": {
      "x": {"field": "t", "type": "quantitative", "title": null},
      "y": {"field": "m", "type": "quantitative", "title": null},
      "fill": {"field": "series", "type": "nominal", "title": null,
        "scale": {"domain": ["Recessions", "Initial Claims", "4-Week MA", "Latest 4-wk MA"], "range": ["#dcdcdc", "#ff0000", "#0000ff", "#ff0000"]},
        "legend": {"title": null, "orient": "none", "legendX": 13, "legendY": 13, "padding": 14,
          "fillColor": "#ffffff", "strokeColor": "#000000",
          "labelFont": "Lato", "labelFontSize": 46, "labelLimit": 800,
          "labelColor": {"expr": "datum.value === '4-Week MA' ? '#0000ff' : '#000000'"},
          "labelFontWeight": {"expr": "datum.value === '4-Week MA' ? 'bold' : 'normal'"},
          "rowPadding": 24, "symbolOffset": 45, "labelOffset": 32, "symbolSize": 1600, "symbolStrokeWidth": 2, "symbolOpacity": 1}
      },
      "stroke": {"field": "series", "type": "nominal", "title": null,
        "scale": {"domain": ["Recessions", "Initial Claims", "4-Week MA", "Latest 4-wk MA"], "range": ["#dcdcdc", "#ff0000", "#0000ff", "#000000"]}},
      "shape": {"field": "series", "type": "nominal", "title": null,
        "scale": {"domain": ["Recessions", "Initial Claims", "4-Week MA", "Latest 4-wk MA"],
          "range": ["M-2.2,-0.7H2.2V0.7H-2.2Z", "M-0.2,0A0.2,0.2,0,1,0,0.2,0A0.2,0.2,0,1,0,-0.2,0Z", "M-2.275,-0.15H2.275V0.15H-2.275Z", "M-0.55,0A0.55,0.55,0,1,0,0.55,0A0.55,0.55,0,1,0,-0.55,0Z"]}}
    }
  },
  {
    "data": {"values": [{}]},
    "mark": {"type": "rect", "fill": "#ffff00", "stroke": "#000000", "strokeWidth": 3},
    "encoding": {
      "x": {"datum": 2022.91}, "x2": {"datum": 2026.09},
      "y": {"datum": 252100}, "y2": {"datum": 237100}
    }
  },
  {
    "data": {"values": [{}]},
    "mark": {"type": "text", "font": "Liberation Sans", "fontSize": 37, "fontWeight": "bold", "color": "#000000", "align": "center", "baseline": "middle"},
    "encoding": {
      "x": {"datum": 2024.5}, "y": {"datum": 244600},
      "text": {"value": "355,000"}
    }
  },
  {
    "data": {"values": [{}]},
    "mark": {"type": "text", "font": "Lato", "fontSize": 48, "fontWeight": "bold", "color": "#1F4E79", "align": "right", "baseline": "alphabetic", "lineHeight": 52},
    "encoding": {
      "x": {"datum": 2025.7}, "y": {"datum": 771600},
      "text": {"value": ["advisorperspectives.com", "February 24, 2022", "As of February 19"]}
    }
  },
  {
    "data": {"values": [{}]},
    "mark": {"type": "text", "font": "Lato", "fontSize": 48, "fontWeight": "bold", "color": "#7A1F1F", "align": "left", "baseline": "alphabetic"},
    "encoding": {
      "x": {"datum": 1962.21}, "y": {"datum": 768500},
      "text": {"value": "ADVISOR"}
    }
  },
  {
    "data": {"values": [{}]},
    "mark": {"type": "text", "font": "Lato", "fontSize": 49, "fontWeight": 300, "color": "#B8995A", "align": "left", "baseline": "alphabetic"},
    "encoding": {
      "x": {"datum": 1962.08}, "y": {"datum": 755000},
      "text": {"value": "PERSPECTIVES"}
    }
  },
  {
    "data": {"values": [{}]},
    "mark": {"type": "point", "shape": "circle", "size": 3600, "filled": false, "stroke": "#B8995A", "strokeWidth": 3, "opacity": 1},
    "encoding": {"x": {"datum": 1961.33}, "y": {"datum": 767100}}
  },
  {
    "data": {"values": [{}]},
    "mark": {"type": "point", "shape": "M0,-1L0.2,-0.2L1,0L0.2,0.2L0,1L-0.2,0.2L-1,0L-0.2,-0.2Z", "size": 4900, "filled": true, "color": "#7A1F1F", "opacity": 1},
    "encoding": {"x": {"datum": 1961.33}, "y": {"datum": 767100}}
  }
]
}
